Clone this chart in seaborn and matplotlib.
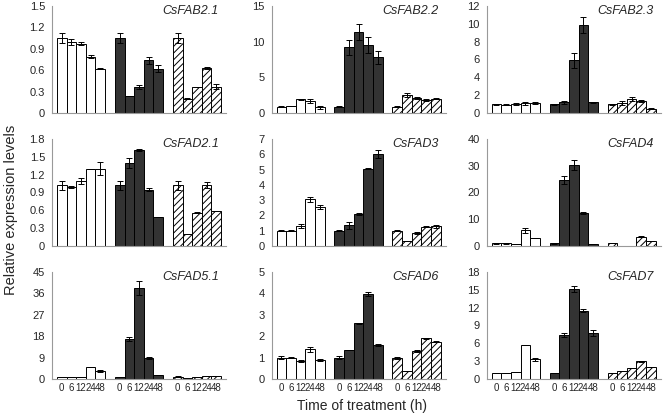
import numpy as np
import pandas as pd
import matplotlib
matplotlib.use("Agg")
import matplotlib.pyplot as plt
import seaborn as sns

sns.set_theme(style="white")
plt.rcParams['font.family'] = ['Liberation Sans', 'DejaVu Sans']
plt.rcParams['hatch.linewidth'] = 0.7

groups = ['g1', 'g2', 'g3']
times = ['0', '6', '12', '24', '48']
genes = ['CsFAB2.1', 'CsFAB2.2', 'CsFAB2.3', 'CsFAD2.1', 'CsFAD3', 'CsFAD4',
         'CsFAD5.1', 'CsFAD6', 'CsFAD7']

# values: white group (5), black group (5), hatched group (5)
fab21 = [1.05, 1.00, 0.97, 0.79, 0.62, 1.05, 0.24, 0.36, 0.74, 0.62, 1.05, 0.20, 0.37, 0.63, 0.37]
fab21_err = [0.07, 0.04, 0.02, 0.02, 0.01, 0.07, 0.0, 0.03, 0.05, 0.05, 0.07, 0.01, 0.0, 0.01, 0.03]
fab22 = [0.9, 1.0, 1.9, 1.7, 0.8, 0.9, 9.2, 11.4, 9.5, 7.8, 0.9, 2.5, 2.1, 1.8, 2.0]
fab22_err = [0.1, 0.05, 0.1, 0.25, 0.2, 0.05, 1.0, 1.1, 1.1, 0.9, 0.05, 0.3, 0.1, 0.1, 0.05]
fab23 = [1.0, 0.95, 1.0, 1.1, 1.1, 1.0, 1.2, 5.9, 9.9, 1.2, 1.0, 1.1, 1.6, 1.35, 0.5]
fab23_err = [0.05, 0.05, 0.15, 0.15, 0.1, 0.05, 0.2, 0.8, 0.9, 0.05, 0.05, 0.2, 0.2, 0.1, 0.05]
fad21 = [1.02, 0.99, 1.10, 1.30, 1.30, 1.02, 1.40, 1.61, 0.95, 0.48, 1.02, 0.20, 0.56, 1.03, 0.59]
fad21_err = [0.08, 0.02, 0.05, 0.0, 0.11, 0.08, 0.08, 0.02, 0.02, 0.0, 0.08, 0.0, 0.01, 0.05, 0.0]
fad3 = [1.0, 1.0, 1.3, 3.05, 2.55, 1.0, 1.35, 2.1, 5.05, 6.0, 1.0, 0.35, 0.85, 1.25, 1.3]
fad3_err = [0.05, 0.02, 0.15, 0.18, 0.15, 0.05, 0.25, 0.05, 0.02, 0.25, 0.05, 0.0, 0.05, 0.03, 0.1]
fad4 = [1.0, 1.0, 0.8, 5.8, 2.9, 1.0, 24.8, 30.2, 12.3, 0.8, 1.0, 0.1, 0.1, 3.4, 2.0]
fad4_err = [0.1, 0.1, 0.0, 1.0, 0.0, 0.1, 1.5, 1.8, 0.3, 0.0, 0.05, 0.0, 0.0, 0.2, 0.0]
fad51 = [1.0, 0.9, 0.9, 5.0, 3.3, 1.0, 16.8, 38.2, 8.8, 1.6, 1.0, 0.3, 0.8, 1.2, 1.4]
fad51_err = [0.0, 0.0, 0.0, 0.0, 0.3, 0.0, 0.7, 3.0, 0.4, 0.0, 0.05, 0.0, 0.0, 0.0, 0.0]
fad6 = [1.0, 1.0, 0.85, 1.38, 0.9, 1.0, 1.35, 2.6, 3.98, 1.6, 1.0, 0.35, 1.3, 1.9, 1.75]
fad6_err = [0.08, 0.03, 0.06, 0.1, 0.05, 0.07, 0.0, 0.03, 0.1, 0.05, 0.05, 0.0, 0.05, 0.03, 0.03]
fad7 = [1.0, 1.0, 1.2, 5.7, 3.3, 1.0, 7.4, 15.1, 11.5, 7.7, 1.0, 1.4, 1.8, 3.0, 2.1]
fad7_err = [0.0, 0.0, 0.0, 0.05, 0.3, 0.0, 0.3, 0.5, 0.3, 0.5, 0.0, 0.0, 0.0, 0.1, 0.0]

values = [fab21, fab22, fab23, fad21, fad3, fad4, fad51, fad6, fad7]
errors = [fab21_err, fab22_err, fab23_err, fad21_err, fad3_err, fad4_err, fad51_err, fad6_err, fad7_err]
ymax = [1.5, 15, 12, 1.8, 7, 40, 45, 5, 18]
ystep = [0.3, 5, 2, 0.3, 1, 10, 9, 1, 3]

fig = plt.figure(figsize=(6.64, 4.19), dpi=100)
lefts = [0.0783, 0.409, 0.733]
width = 0.262
bottoms = [0.7303, 0.4129, 0.0955]
height = 0.2554

spine_c = '#999999'
dark = '#333333'

for k in range(9):
    r, c = divmod(k, 3)
    ax = fig.add_axes([lefts[c], bottoms[r], width, height])
    df = pd.DataFrame({
        'group': np.repeat(groups, 5),
        'time': np.tile(times, 3),
        'value': values[k],
    })
    sns.barplot(data=df, x='group', y='value', hue='time', order=groups,
                hue_order=times, palette=['white'] * 5, width=0.83,
                errorbar=None, edgecolor='black', linewidth=0.7,
                legend=False, ax=ax)
    centers = [[None] * 5 for _ in range(3)]
    bar_conts = list(ax.containers)
    for i, cont in enumerate(bar_conts):
        for j, bar in enumerate(cont.patches):
            if j == 1:
                bar.set_facecolor(dark)
            elif j == 2:
                bar.set_facecolor('white')
                bar.set_hatch('/////')
            cx = bar.get_x() + bar.get_width() / 2
            centers[j][i] = cx
            e = errors[k][j * 5 + i]
            ax.errorbar(cx, bar.get_height(), yerr=e, color='black',
                        elinewidth=0.7, capsize=2, capthick=0.7, fmt='none')
    ax.set_xlim(-0.5, 2.5)
    ax.set_ylim(0, ymax[k])
    yt = np.round(np.arange(0, ymax[k] + ystep[k] / 2, ystep[k]), 2)
    ax.set_yticks(yt)
    ax.set_yticklabels([('%g' % v) for v in yt], fontsize=8)
    ax.set_xticks([-0.5, 0.5, 1.5, 2.5])
    ax.set_xticklabels([])
    if r == 2:
        allc = [centers[j][i] for j in range(3) for i in range(5)]
        ax.set_xticks(allc, minor=True)
        ax.set_xticklabels(times * 3, minor=True, fontsize=7)
    ax.tick_params(axis='x', which='minor', length=0, pad=3)
    ax.tick_params(axis='x', which='major', length=4, width=0.7, color=spine_c, direction='out')
    ax.tick_params(axis='y', length=3, width=0.7, color=spine_c, direction='out', pad=2)
    ax.set_xlabel('')
    ax.set_ylabel('')
    for s in ['top', 'right']:
        ax.spines[s].set_visible(False)
    for s in ['left', 'bottom']:
        ax.spines[s].set_color(spine_c)
        ax.spines[s].set_linewidth(0.8)
    ax.text(0.96, 0.95, genes[k], transform=ax.transAxes, ha='right', va='center',
            fontsize=9, style='italic')

fig.text(0.016, 0.5, 'Relative expression levels', rotation=90, ha='center',
         va='center', fontsize=10.5)
fig.text(0.545, 0.031, 'Time of treatment (h)', ha='center', va='center', fontsize=10)

fig.savefig('out.png', dpi=100)
